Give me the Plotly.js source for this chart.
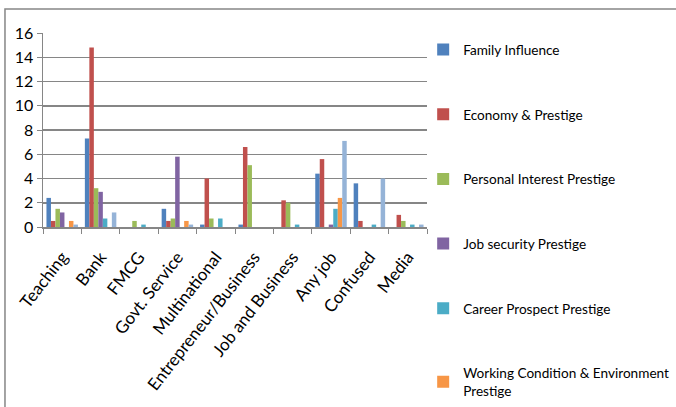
<!DOCTYPE html>
<html>
<head>
<meta charset="utf-8">
<script src="https://cdn.plot.ly/plotly-3.0.1.min.js"></script>
<style>
  html, body { margin: 0; padding: 0; background: #fff; }
  #chart { width: 676px; height: 407px; }
</style>
</head>
<body>
<div id="chart"></div>
<script>
// Career choice categories along the x axis
const categories = ['Teaching', 'Bank', 'FMCG', 'Govt. Service', 'Multinational',
  'Entrepreneur/Business', 'Job and Business', 'Any job', 'Confused', 'Media'];

// One array per motivating factor, one value per category
const familyInfluence   = [2.4, 7.3, 0,   1.5, 0.2, 0.2, 0,   4.4, 3.6, 0];
const economyPrestige   = [0.5, 14.8, 0,  0.5, 4.0, 6.6, 2.2, 5.6, 0.5, 1.0];
const personalInterest  = [1.5, 3.2, 0.5, 0.7, 0.7, 5.1, 2.0, 0,   0,   0.5];
const jobSecurity       = [1.2, 2.9, 0,   5.8, 0,   0,   0,   0.2, 0,   0];
const careerProspect    = [0,   0.7, 0.2, 0,   0.7, 0,   0.2, 1.5, 0.2, 0.2];
const workingCondition  = [0.5, 0,   0,   0.5, 0,   0,   0,   2.4, 0,   0];
const otherFactors      = [0.2, 1.2, 0,   0.2, 0,   0,   0,   7.1, 4.0, 0.2];

const seriesNames = ['Family Influence', 'Economy & Prestige', 'Personal Interest Prestige',
  'Job security Prestige', 'Career Prospect Prestige',
  'Working Condition & Environment<br>Prestige', 'Other'];

const yTicks = [0, 2, 4, 6, 8, 10, 12, 14, 16];

const seriesValues = [familyInfluence, economyPrestige, personalInterest, jobSecurity,
  careerProspect, workingCondition, otherFactors];

const colors = ['#4F81BD', '#C0504D', '#9BBB59', '#8064A2', '#4BACC6', '#F79646', '#95B3D7'];

const FONT = 'Lato, "Liberation Sans", sans-serif';

const traces = seriesValues.map((vals, i) => ({
  type: 'bar',
  name: seriesNames[i],
  x: categories,
  y: vals,
  marker: { color: colors[i], line: { width: 0 } },
  legendgroup: 'g' + i,
  showlegend: i < 6,
  hoverinfo: 'x+y+name'
}));

// Plot area spans the full height so the tall legend fits without clipping;
// the value axis itself occupies only the upper part.
const layout = {
  width: 676,
  height: 407,
  margin: { l: 43, r: 249, t: 0, b: 0, autoexpand: false },
  paper_bgcolor: '#ffffff',
  plot_bgcolor: 'rgba(0,0,0,0)',
  barmode: 'group',
  bargap: 0.18,
  bargroupgap: 0,
  font: { family: FONT, color: '#000', size: 15 },
  xaxis: {
    type: 'category',
    tickson: 'boundaries',
    ticks: 'outside',
    ticklen: 5,
    tickcolor: '#868686',
    showline: true,
    linecolor: '#868686',
    linewidth: 1.5,
    showgrid: false,
    tickangle: -52,
    ticklabelstandoff: 12,
    tickfont: { family: FONT, size: 17, color: '#000' }
  },
  yaxis: {
    domain: [180 / 407, 374 / 407],
    range: [0, 16],
    tickvals: yTicks,
    ticks: 'outside',
    ticklen: 5,
    tickcolor: '#868686',
    showline: true,
    linecolor: '#868686',
    linewidth: 1.5,
    showgrid: true,
    gridcolor: '#868686',
    gridwidth: 1.5,
    zeroline: false,
    tickfont: { family: FONT, size: 16, color: '#000' }
  },
  legend: {
    xref: 'container',
    yref: 'paper',
    x: 0.626,
    y: 0.916,
    xanchor: 'left',
    yanchor: 'top',
    tracegroupgap: 44,
    traceorder: 'grouped',
    font: { family: FONT, size: 13.6, color: '#000' },
    itemwidth: 30,
    bgcolor: 'rgba(0,0,0,0)'
  },
  shapes: [
    // outer chart frame (top and left edges visible)
    {
      type: 'rect', xref: 'paper', yref: 'paper',
      x0: -0.099, x1: 1.8, y0: -0.2, y1: 398 / 407,
      line: { color: '#868686', width: 1.5 },
      fillcolor: 'rgba(0,0,0,0)',
      layer: 'above'
    }
  ]
};

Plotly.newPlot('chart', traces, layout, { displayModeBar: false, staticPlot: true });
</script>
</body>
</html>
